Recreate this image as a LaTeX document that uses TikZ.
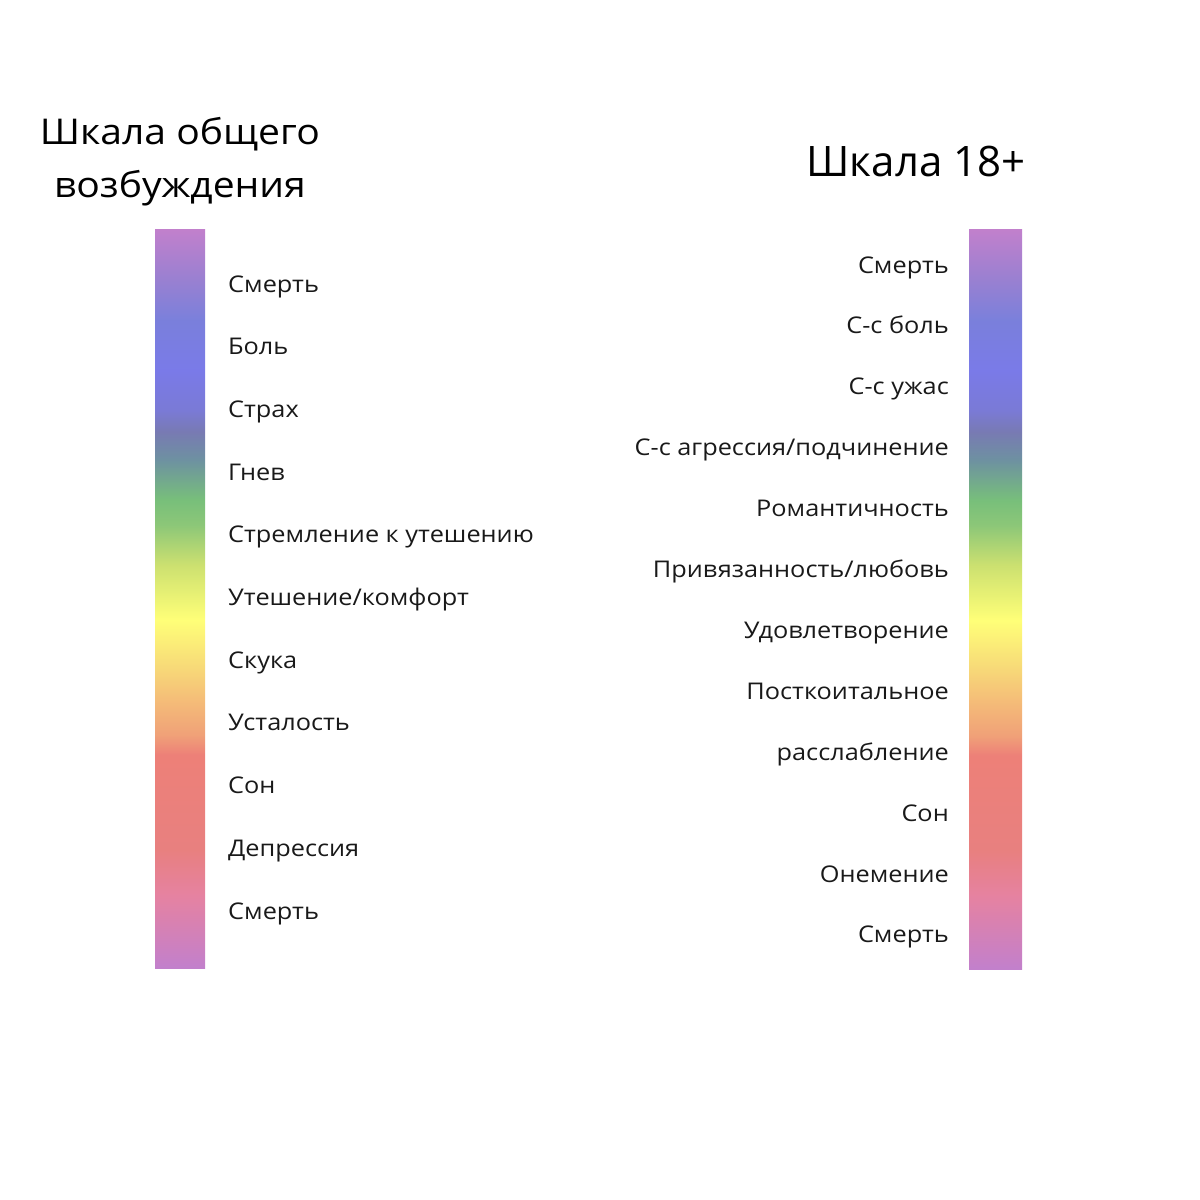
\documentclass[tikz,border=0pt]{standalone}
\usepackage{fontspec}
\setmainfont[FakeStretch=1.1]{Open Sans}
\newfontfamily\plainfont{Open Sans}
\usetikzlibrary{positioning}

% vertical rainbow, 25bp = bottom of the bar, 75bp = top
\pgfdeclareverticalshading{arousal}{100bp}{
  rgb(0bp)=(0.76,0.50,0.80);
  rgb(25bp)=(0.76,0.50,0.80);
  rgb(29.94bp)=(0.90,0.51,0.63);
  rgb(32.98bp)=(0.91,0.50,0.50);
  rgb(39.41bp)=(0.93,0.50,0.47);
  rgb(40.76bp)=(0.94,0.63,0.47);
  rgb(43.13bp)=(0.96,0.74,0.47);
  rgb(45.50bp)=(0.97,0.86,0.47);
  rgb(48.55bp)=(1.00,1.00,0.47);
  rgb(52.27bp)=(0.80,0.88,0.44);
  rgb(54.97bp)=(0.55,0.78,0.47);
  rgb(56.66bp)=(0.47,0.75,0.48);
  rgb(59.37bp)=(0.43,0.57,0.63);
  rgb(61.26bp)=(0.47,0.48,0.70);
  rgb(62.75bp)=(0.48,0.48,0.84);
  rgb(65.46bp)=(0.48,0.48,0.91);
  rgb(68.84bp)=(0.48,0.50,0.86);
  rgb(71.55bp)=(0.60,0.50,0.82);
  rgb(75bp)=(0.76,0.50,0.80);
  rgb(100bp)=(0.76,0.50,0.80)}

\begin{document}
\begin{tikzpicture}[
        x=1pt, y=-1pt,
        bar/.style={shade, shading=arousal, inner sep=0pt},
        lbl/.style={inner sep=0pt, text=black!90, font=\fontsize{23}{27}\selectfont},
        heading/.style={inner sep=0pt, text=black, align=center}
    ]
        \useasboundingbox (0,0) rectangle (1200,1200);

        % left scale
        \node[heading, anchor=base, font=\fontsize{35.5}{53}\selectfont] (lefttitle) at (180,197)
            {Шкала общего\\возбуждения};
        \node[bar, minimum width=50pt, minimum height=739pt] (leftbar) at (180,598.5) {};
        \foreach \txt [count=\i] in {Смерть, Боль, Страх, Гнев, Стремление к утешению,
                {Утешение/комфорт}, Скука, Усталость, Сон, Депрессия, Смерть}
            \node[lbl, anchor=base west] (left\i) at (228,{292+62.7*(\i-1)}) {\txt};

        % right scale
        \node[heading, anchor=base, font=\plainfont\fontsize{42}{48}\selectfont] (righttitle) at (916,176)
            {Шкала 18+};
        \node[bar, minimum width=53pt, minimum height=740pt] (rightbar) at (995.5,599) {};
        \foreach \txt [count=\i] in {Смерть, С-с боль, С-с ужас, {С-с агрессия/подчинение},
                Романтичность, {Привязанность/любовь}, Удовлетворение, Посткоитальное,
                расслабление, Сон, Онемение, Смерть}
            \node[lbl, anchor=base east] (right\i) at (949,{273+60.9*(\i-1)}) {\txt};
    \end{tikzpicture}
\end{document}
